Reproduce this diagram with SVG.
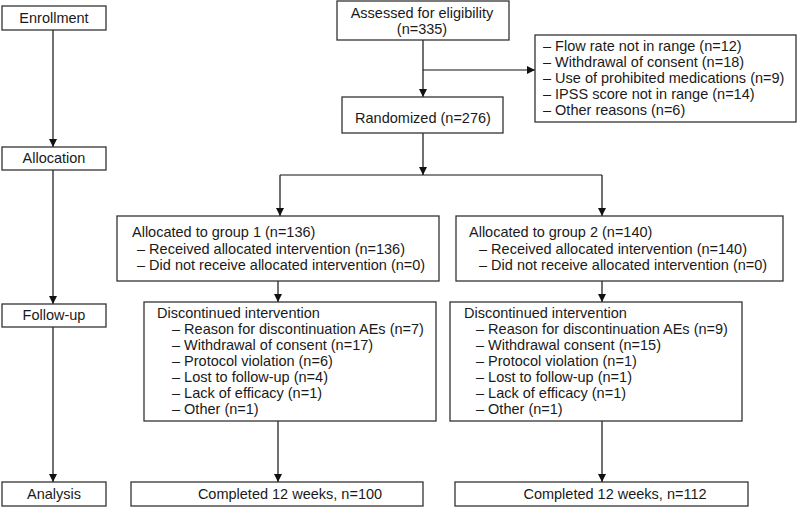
<svg xmlns="http://www.w3.org/2000/svg" width="798" height="508" viewBox="0 0 798 508">
<defs>
<marker id="arr" markerUnits="userSpaceOnUse" markerWidth="10" markerHeight="10" refX="8" refY="4" orient="auto">
<path d="M0,0 L8,4 L0,8 z" fill="#111"/>
</marker>
<style>
rect{fill:#fff;stroke:#333;stroke-width:1.3}
text{font-family:"Liberation Sans",Arial,sans-serif;font-size:14.5px;fill:#1a1a1a}
.c{text-anchor:middle}
.ln{fill:none;stroke:#111;stroke-width:1.2}
</style>
</defs>
<rect x="0" y="0" width="798" height="508" style="fill:#fff;stroke:none"/>
<g id="connectors">
<path class="ln" d="M53,30 V147" marker-end="url(#arr)"/>
<path class="ln" d="M53,170 V304" marker-end="url(#arr)"/>
<path class="ln" d="M53,327 V482" marker-end="url(#arr)"/>
<path class="ln" d="M423,40 V97" marker-end="url(#arr)"/>
<path class="ln" d="M423,70 H535" marker-end="url(#arr)"/>
<path class="ln" d="M423,133 V175" marker-end="url(#arr)"/>
<path class="ln" d="M280,175 H602"/>
<path class="ln" d="M280,175 V216" marker-end="url(#arr)"/>
<path class="ln" d="M602,175 V216" marker-end="url(#arr)"/>
<path class="ln" d="M278,281 V302" marker-end="url(#arr)"/>
<path class="ln" d="M602,281 V302" marker-end="url(#arr)"/>
<path class="ln" d="M278,421 V482" marker-end="url(#arr)"/>
<path class="ln" d="M602,421 V482" marker-end="url(#arr)"/>
</g>
<g id="enrollment"><rect x="2" y="6" width="104" height="24"/><text class="c" x="54" y="23">Enrollment</text></g>
<g id="allocation"><rect x="2" y="147" width="104" height="23"/><text class="c" x="54" y="163">Allocation</text></g>
<g id="followup"><rect x="2" y="304" width="104" height="23"/><text class="c" x="54" y="320">Follow-up</text></g>
<g id="analysis"><rect x="2" y="482" width="104" height="24"/><text class="c" x="54" y="499">Analysis</text></g>
<g id="assessed"><rect x="337" y="1" width="172" height="39"/><text class="c" x="422" y="18">Assessed for eligibility</text><text class="c" x="422" y="34">(n=335)</text></g>
<g id="excluded"><rect x="535" y="35" width="261" height="87"/>
<text x="543" y="51">– Flow rate not in range (n=12)</text>
<text x="543" y="67">– Withdrawal of consent (n=18)</text>
<text x="543" y="83">– Use of prohibited medications (n=9)</text>
<text x="543" y="99">– IPSS score not in range (n=14)</text>
<text x="543" y="115">– Other reasons (n=6)</text></g>
<g id="randomized"><rect x="342" y="97" width="161" height="36"/><text class="c" x="423" y="123">Randomized (n=276)</text></g>
<g id="group1"><rect x="117" y="216" width="322" height="65"/>
<text x="132" y="237">Allocated to group 1 (n=136)</text>
<text x="137" y="254">– Received allocated intervention (n=136)</text>
<text x="137" y="270">– Did not receive allocated intervention (n=0)</text></g>
<g id="group2"><rect x="456" y="216" width="327" height="65"/>
<text x="469" y="237">Allocated to group 2 (n=140)</text>
<text x="479" y="254">– Received allocated intervention (n=140)</text>
<text x="479" y="270">– Did not receive allocated intervention (n=0)</text></g>
<g id="disc1"><rect x="144" y="302" width="292" height="119"/>
<text x="157" y="318">Discontinued intervention</text>
<text x="172" y="334">– Reason for discontinuation AEs (n=7)</text>
<text x="172" y="350">– Withdrawal of consent (n=17)</text>
<text x="172" y="366">– Protocol violation (n=6)</text>
<text x="172" y="382">– Lost to follow-up (n=4)</text>
<text x="172" y="398">– Lack of efficacy (n=1)</text>
<text x="172" y="414">– Other (n=1)</text></g>
<g id="disc2"><rect x="450" y="302" width="292" height="119"/>
<text x="464" y="318">Discontinued intervention</text>
<text x="476" y="334">– Reason for discontinuation AEs (n=9)</text>
<text x="476" y="350">– Withdrawal consent (n=15)</text>
<text x="476" y="366">– Protocol violation (n=1)</text>
<text x="476" y="382">– Lost to follow-up (n=1)</text>
<text x="476" y="398">– Lack of efficacy (n=1)</text>
<text x="476" y="414">– Other (n=1)</text></g>
<g id="completed1"><rect x="131" y="482" width="292" height="24"/><text class="c" x="290" y="499">Completed 12 weeks, n=100</text></g>
<g id="completed2"><rect x="455" y="482" width="293" height="24"/><text class="c" x="615" y="499">Completed 12 weeks, n=112</text></g>
</svg>
